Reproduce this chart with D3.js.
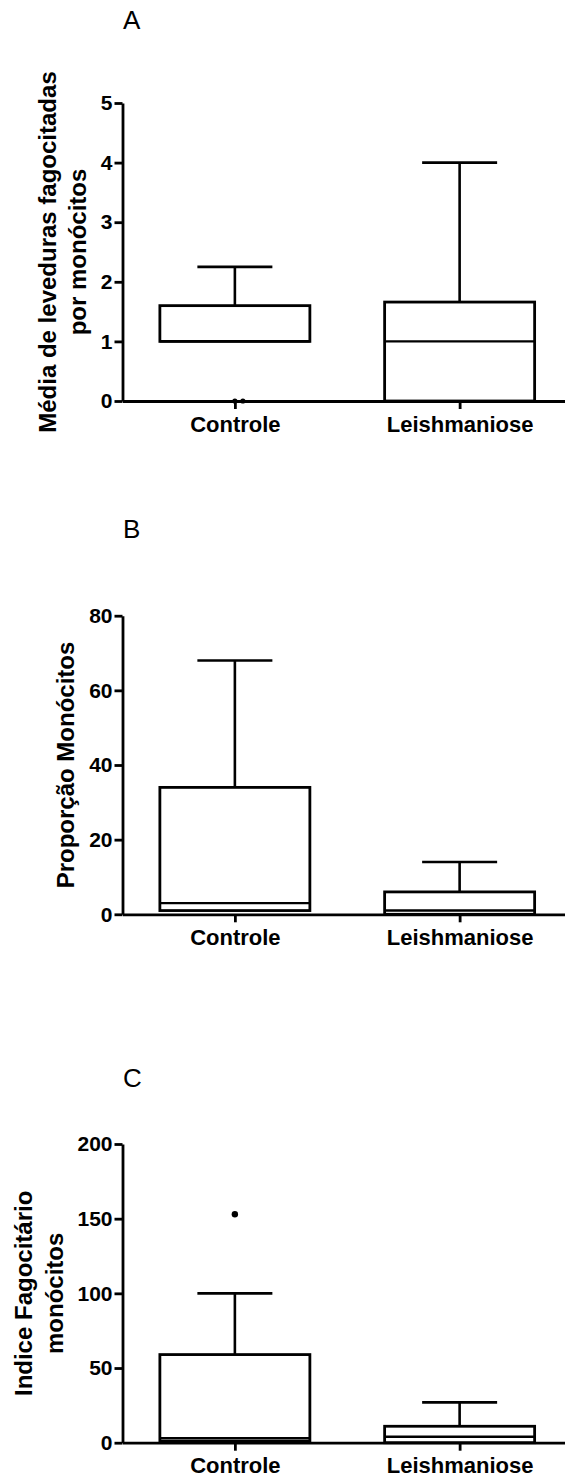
<!DOCTYPE html>
<html>
<head>
<meta charset="utf-8">
<script src="https://cdn.jsdelivr.net/npm/d3@7"></script>
<style>
  html, body { margin: 0; padding: 0; background: #fff; }
  svg { display: block; }
  text { font-family: "Liberation Sans", Arial, sans-serif; }
</style>
</head>
<body>
<script>
// ---------- DATA ----------
const categories = ["Controle", "Leishmaniose"];

// Panel A: Média de leveduras fagocitadas por monócitos
const aLow    = [1, 0];
const aQ1     = [1, 0];
const aMedian = [1, 1];
const aQ3     = [1.6, 1.66];
const aHigh   = [2.25, 4];
const aOutliers = [["Controle", 0], ["Controle", 0]];
const aTicks  = [0, 1, 2, 3, 4, 5];

// Panel B: Proporção Monócitos
const bLow    = [1, 0];
const bQ1     = [1, 0];
const bMedian = [3, 1];
const bQ3     = [34, 6];
const bHigh   = [68, 14];
const bOutliers = [];
const bTicks  = [0, 20, 40, 60, 80];

// Panel C: Indice Fagocitário monócitos
const cLow    = [1, 0];
const cQ1     = [1, 0];
const cMedian = [3, 4];
const cQ3     = [59, 11];
const cHigh   = [100, 27];
const cOutliers = [["Controle", 153]];
const cTicks  = [0, 50, 100, 150, 200];

// ---------- CHART ----------
const W = 565, H = 1477;
const svg = d3.select("body").append("svg").attr("width", W).attr("height", H);

const axisX = 122.5;
const xRight = 572;

const panels = [
  { letter: "A", letterY: 29, y0: 401, y1: 103, ticks: aTicks,
    title: ["Média de leveduras fagocitadas", "por monócitos"], titleX: [47, 77.5],
    low: aLow, q1: aQ1, med: aMedian, q3: aQ3, high: aHigh, out: aOutliers, outR: 2.6 },
  { letter: "B", letterY: 538, y0: 914.3, y1: 615.7, ticks: bTicks,
    title: ["Proporção Monócitos"], titleX: [65],
    low: bLow, q1: bQ1, med: bMedian, q3: bQ3, high: bHigh, out: bOutliers, outR: 3 },
  { letter: "C", letterY: 1087, y0: 1442.7, y1: 1144, ticks: cTicks,
    title: ["Indice Fagocitário", "monócitos"], titleX: [23.4, 54],
    low: cLow, q1: cQ1, med: cMedian, q3: cQ3, high: cHigh, out: cOutliers, outR: 3.2 }
];

const x = d3.scalePoint().domain(categories).range([axisX, xRight]).padding(0.5);
const boxW = 150, capW = 75;

panels.forEach(p => {
  const g = svg.append("g");
  const dom = d3.extent(p.ticks);
  const y = d3.scaleLinear().domain(dom).range([p.y0, p.y1]);

  // Panel letter
  g.append("text").attr("x", 123).attr("y", p.letterY)
    .attr("font-size", 26).attr("font-weight", "normal").text(p.letter);

  // Y axis
  const ya = g.append("g").attr("transform", `translate(${axisX},0)`)
    .call(d3.axisLeft(y).tickValues(p.ticks).tickSize(8).tickSizeOuter(0).tickPadding(2).tickFormat(d3.format("d")));
  ya.select(".domain").attr("stroke", "#000").attr("stroke-width", 2.8);
  ya.selectAll(".tick line").attr("stroke", "#000").attr("stroke-width", 2.8);
  ya.selectAll(".tick text").attr("font-size", 21).attr("font-weight", "bold")
    .attr("fill", "#000").attr("font-family", '"Liberation Sans", Arial, sans-serif');

  // X axis
  const xa = g.append("g").attr("transform", `translate(0,${p.y0})`)
    .call(d3.axisBottom(x).tickSize(8).tickSizeOuter(0).tickPadding(7));
  xa.select(".domain").attr("stroke", "#000").attr("stroke-width", 2.8);
  xa.selectAll(".tick line").attr("stroke", "#000").attr("stroke-width", 2.8);
  xa.selectAll(".tick text").attr("font-size", 22).attr("font-weight", "bold")
    .attr("fill", "#000").attr("font-family", '"Liberation Sans", Arial, sans-serif');

  // Y title
  const cy = (p.y0 + p.y1) / 2;
  p.title.forEach((t, i) => {
    g.append("text")
      .attr("transform", `translate(${p.titleX[i]},${cy}) rotate(-90)`)
      .attr("text-anchor", "middle").attr("dominant-baseline", "central")
      .attr("font-size", 24).attr("font-weight", "bold").text(t);
  });

  // Boxes
  const data = categories.map((c, i) => ({
    c, low: p.low[i], q1: p.q1[i], med: p.med[i], q3: p.q3[i], high: p.high[i]
  }));
  const bx = g.append("g");
  data.forEach(d => {
    const cx = x(d.c);
    bx.append("line").attr("x1", cx).attr("x2", cx).attr("y1", y(d.q3)).attr("y2", y(d.high))
      .attr("stroke", "#000").attr("stroke-width", 2.6);
    bx.append("line").attr("x1", cx - capW / 2).attr("x2", cx + capW / 2).attr("y1", y(d.high)).attr("y2", y(d.high))
      .attr("stroke", "#000").attr("stroke-width", 2.6);
    if (d.low < d.q1) {
      bx.append("line").attr("x1", cx).attr("x2", cx).attr("y1", y(d.q1)).attr("y2", y(d.low))
        .attr("stroke", "#000").attr("stroke-width", 2.6);
      bx.append("line").attr("x1", cx - capW / 2).attr("x2", cx + capW / 2).attr("y1", y(d.low)).attr("y2", y(d.low))
        .attr("stroke", "#000").attr("stroke-width", 2.6);
    }
    bx.append("rect").attr("x", cx - boxW / 2).attr("width", boxW)
      .attr("y", y(d.q3)).attr("height", Math.max(0, y(d.q1) - y(d.q3)))
      .attr("fill", "#fff").attr("stroke", "#000").attr("stroke-width", 2.8);
    bx.append("line").attr("x1", cx - boxW / 2).attr("x2", cx + boxW / 2).attr("y1", y(d.med)).attr("y2", y(d.med))
      .attr("stroke", "#000").attr("stroke-width", 2.4);
  });

  // Outliers (duplicates placed side by side)
  const seen = {};
  p.out.forEach(([c, v]) => {
    const k = c + "|" + v;
    const n = seen[k] = (seen[k] || 0) + 1;
    g.append("circle").attr("cx", x(c) + (n - 1) * 8).attr("cy", y(v)).attr("r", p.outR).attr("fill", "#000");
  });

  xa.raise();
});
</script>
</body>
</html>
